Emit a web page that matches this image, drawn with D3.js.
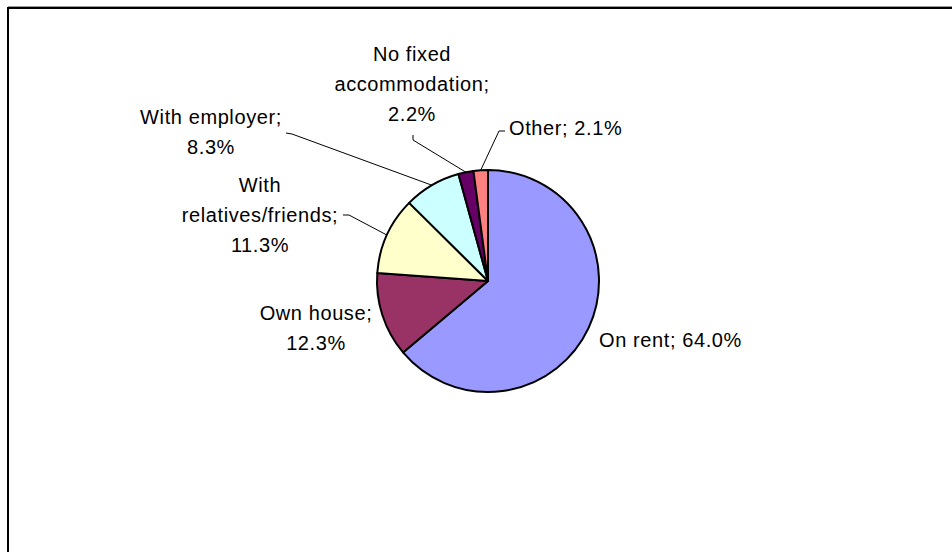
<!DOCTYPE html>
<html>
<head>
<meta charset="utf-8">
<script src="https://cdn.jsdelivr.net/npm/d3@7"></script>
<style>
  html, body { margin: 0; padding: 0; background: #fff; }
  svg { display: block; }
  text { font-family: "Liberation Sans", Arial, sans-serif; font-size: 20px; fill: #000; letter-spacing: 0.6px; }
</style>
</head>
<body>
<svg id="chart" width="952" height="552"></svg>
<script>
// Accommodation types, clockwise from 12 o'clock
const categories = ["On rent", "Own house", "With relatives/friends", "With employer", "No fixed accommodation", "Other"];
const shares = [64.0, 12.3, 11.3, 8.3, 2.2, 2.1];
const sliceColors = ["#9999FF", "#993366", "#FFFFCC", "#CCFFFF", "#660066", "#FF8080"];

// Label text broken into lines
const labelLines = [
  ["On rent; 64.0%"],
  ["Own house;", "12.3%"],
  ["With", "relatives/friends;", "11.3%"],
  ["With employer;", "8.3%"],
  ["No fixed", "accommodation;", "2.2%"],
  ["Other; 2.1%"]
];

// Label placement: anchor point, alignment and optional leader elbow/end
const labelLayout = [
  { x: 599, y: 347, anchor: "start", leader: null },
  { x: 316, y: 320, anchor: "middle", leader: null },
  { x: 260, y: 192, anchor: "middle", leader: [[349, 215], [343, 215]] },
  { x: 211, y: 123.5, anchor: "middle", leader: [[292, 134], [286, 133]] },
  { x: 412, y: 61, anchor: "middle", leader: [[413, 140], [413, 135]] },
  { x: 509, y: 135, anchor: "start", leader: [[499, 131], [505, 131]] }
];

const width = 952, height = 552;
const cx = 488, cy = 281, radius = 111;
const lineHeight = 30;

const svg = d3.select("#chart");

// Plot area frame (top and left edges visible)
svg.append("path")
  .attr("d", `M8,${height} L8,8 L${width},8`)
  .attr("fill", "none")
  .attr("stroke", "#000")
  .attr("stroke-width", 2);
svg.append("line")
  .attr("x1", 8).attr("x2", width).attr("y1", 6.5).attr("y2", 6.5)
  .attr("stroke", "#9a9a9a").attr("stroke-width", 1);

const data = categories.map((c, i) => ({ name: c, value: shares[i], color: sliceColors[i], lines: labelLines[i], layout: labelLayout[i] }));

const pie = d3.pie().sort(null).value(d => d.value).startAngle(0).endAngle(2 * Math.PI);
const arcs = pie(data);
const arc = d3.arc().innerRadius(0).outerRadius(radius);

const g = svg.append("g").attr("transform", `translate(${cx},${cy})`);

g.selectAll("path.slice")
  .data(arcs)
  .join("path")
  .attr("class", "slice")
  .attr("d", arc)
  .attr("fill", d => d.data.color)
  .attr("stroke", "#000")
  .attr("stroke-width", 2)
  .attr("stroke-linejoin", "round");

// Leader lines from the slice rim to the label
arcs.forEach(a => {
  const L = a.data.layout;
  if (!L.leader) return;
  const mid = (a.startAngle + a.endAngle) / 2;
  const px = cx + radius * Math.sin(mid);
  const py = cy - radius * Math.cos(mid);
  const pts = [[px, py], ...L.leader];
  svg.append("path")
    .attr("d", d3.line()(pts))
    .attr("fill", "none")
    .attr("stroke", "#000")
    .attr("stroke-width", 1);
});

// Labels
arcs.forEach(a => {
  const L = a.data.layout;
  const t = svg.append("text")
    .attr("text-anchor", L.anchor);
  a.data.lines.forEach((ln, j) => {
    t.append("tspan")
      .attr("x", L.x)
      .attr("y", L.y + j * lineHeight)
      .text(ln);
  });
});
</script>
</body>
</html>
